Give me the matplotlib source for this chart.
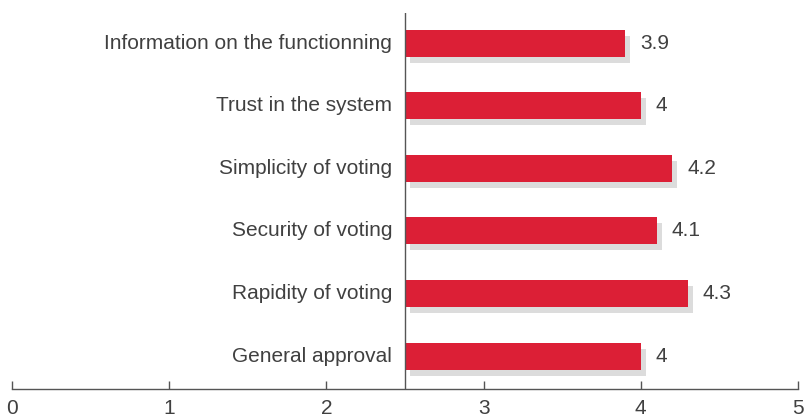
import matplotlib
matplotlib.use("Agg")
import matplotlib.pyplot as plt
from matplotlib.transforms import ScaledTranslation, offset_copy

# criteria, listed from bottom to top
criteria = ["General approval", "Rapidity of voting", "Security of voting",
            "Simplicity of voting", "Trust in the system",
            "Information on the functionning"]
scores = [4.0, 4.3, 4.1, 4.2, 4.0, 3.9]
score_labels = ["4", "4.3", "4.1", "4.2", "4", "3.9"]
baseline = 2.5
xticks = [0, 1, 2, 3, 4, 5]

red = "#dc1f36"
shadow = "#dcdcdc"
text_col = "#404040"
axis_col = "#555555"

plt.rcParams["font.family"] = ["Liberation Sans", "DejaVu Sans"]

fig = plt.figure(figsize=(8.07, 4.18), dpi=100)
ax = fig.add_axes([12 / 807, 29 / 418, 786 / 807, 376 / 418])

ypos = list(range(len(criteria)))
widths = [s - baseline for s in scores]

# grey drop shadow, shifted right and down in pixels
shift = ax.transData + ScaledTranslation(5 / 100, -6 / 100, fig.dpi_scale_trans)
ax.barh(ypos, widths, left=baseline, height=0.43, color=shadow,
        transform=shift, zorder=1)
ax.barh(ypos, widths, left=baseline, height=0.43, color=red, zorder=2)

ax.axvline(baseline, color=axis_col, lw=1.0, zorder=3)

for y, name, s, lab in zip(ypos, criteria, scores, score_labels):
    t_left = offset_copy(ax.transData, fig=fig, x=-13, y=0, units="dots")
    ax.text(baseline, y, name, ha="right", va="center", fontsize=15,
            color=text_col, transform=t_left)
    t_right = offset_copy(ax.transData, fig=fig, x=15, y=0, units="dots")
    ax.text(s, y, lab, ha="left", va="center", fontsize=15,
            color=text_col, transform=t_right)

ax.set_xlim(0, 5)
ax.set_ylim(-0.525, 5.48)
ax.set_xticks(xticks)
ax.set_xticklabels([str(t) for t in xticks], fontsize=15, color=text_col)
ax.set_yticks([])
ax.tick_params(axis="x", direction="in", length=6, width=1.0,
               color=axis_col, pad=7)
for side in ["top", "right", "left"]:
    ax.spines[side].set_visible(False)
ax.spines["bottom"].set_color(axis_col)
ax.spines["bottom"].set_linewidth(1.0)
ax.patch.set_alpha(0)

fig.savefig("out.png", dpi=100)
